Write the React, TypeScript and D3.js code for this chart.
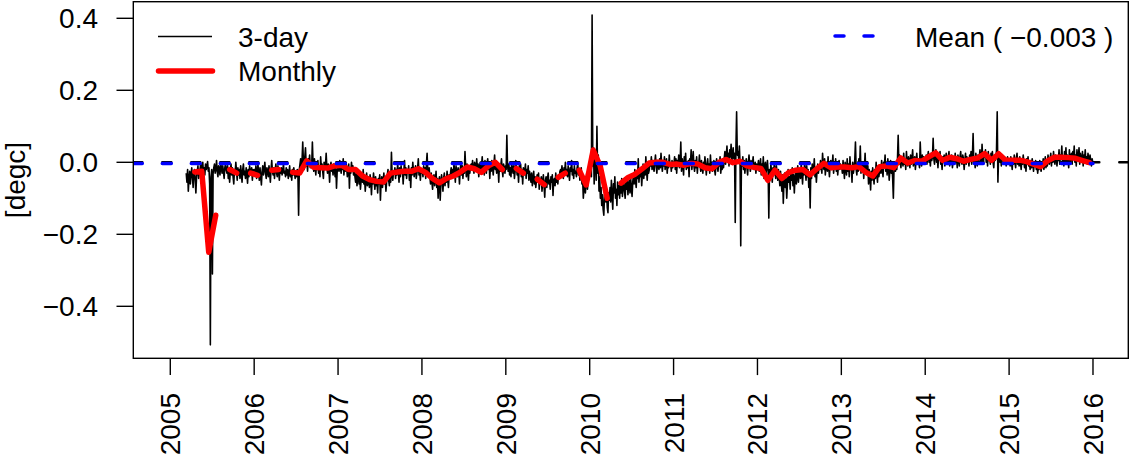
import React from "react";
import * as d3 from "d3";

// 3-day anomalies, in units of 0.001 degC (one array per year)
const threeDay2005 = [
  -30,-55,-20,-80,-45,-25,-60,-35,-15,-40,-70,-30,-20,-50,-85,-40,-25,-10,-45,-30,
  -20,-5,-25,-10,0,-30,-15,-35,-5,-20,-10,2,-25,-15,
  -60,-507,-40,-20,-310,-30,
  -15,-5,-30,-20,5,-25,-40,-10,-20,-35,0,-15,-30,-10,-25,-45,-15,-5,-20,
  -30,-10,-45,-20,-55,-25,-5,-35,-15,-40,-60,-20,-30,0,-25,-50,-15,-35,-20,-45,
  -10,-30,-55,-20,-5,-35,-25,-45,-15,-30,-58,-20,-40,-10,-25,-35,-15,-50,-20,-30,
];
const threeDay2006 = [
  -20,-35,-10,-45,-25,-5,-30,-50,-15,-40,-63,-25,-10,-35,-20,0,-30,-45,-15,-25,
  -40,-10,-30,-55,-20,5,-25,-35,-15,-45,-20,-5,-30,-40,-10,-25,-50,-20,-30,-15,-35,-25,-5,-30,
  -25,-40,-15,-35,-20,-45,-30,-10,-40,-25,-50,-20,-35,-15,-30,-45,-25,-40,-20,-30,-147,
  -20,-5,10,-15,5,56,0,-20,15,40,-10,5,-25,10,-5,20,-15,0,-10,56,
  -5,-25,10,-15,-35,0,-20,5,-30,-10,-40,15,-15,-5,-25,-45,0,-20,-10,25,
  -15,-30,-5,-20,-55,-10,0,-25,-15,-35,-5,-20,-40,-10,-72,-25,-15,
];
const threeDay2007 = [
  -10,-25,5,-15,-30,-5,-20,10,-35,-10,-25,0,-15,-40,-20,-5,-72,-15,-30,0,-20,-10,-35,-25,
  -40,-55,-30,-65,-45,-25,-60,-40,-75,-50,-35,-55,-20,-60,-45,-80,-50,-30,-65,-40,
  -55,-70,-35,-50,-90,-45,-60,-30,-55,-75,-40,-65,-50,-85,-45,-60,-35,-105,-55,-40,
  -70,-50,-30,-60,-45,-80,-55,-35,-20,-50,-65,-40,-55,28,-35,-50,-25,
  -30,-15,-45,-20,-35,-5,-25,-55,-15,-40,-10,-30,-20,-60,-25,5,-35,-15,-45,-20,
  -30,-10,-50,-25,-70,-15,-35,0,-25,-40,-20,-10,-45,-30,-15,10,-35,-25,-50,-20,-30,
];
const threeDay2008 = [
  -20,-40,-10,-30,-15,-45,-5,25,-25,-35,-15,
  -40,-60,-30,-55,-75,-45,-35,-65,-50,-25,-70,-45,-100,-55,-40,-105,-60,-35,-50,-80,
  -45,-30,-65,-40,-55,-25,-50,-70,-35,-45,
  -30,-15,-45,-20,-35,-5,-25,-55,-10,-30,-40,-15,-25,-60,-20,-5,-35,-10,-45,-20,
  -30,30,-15,-40,-5,-25,-50,-15,-30,-10,
  -5,-20,5,-15,-30,0,-10,-25,10,-20,-5,-40,-15,0,-25,-10,15,-20,-5,-35,
  5,-15,-30,-5,10,-20,0,-45,-10,-25,5,-15,-35,-5,20,-20,-10,-30,0,-15,
  -55,-5,-25,-10,10,-20,-40,-5,-15,-30,-10,
];
const threeDay2009 = [
  -20,75,-10,
  -25,-5,-35,-15,-40,0,-20,-30,-10,-45,-25,5,-15,-35,-20,-55,-10,-30,-5,-40,
  -20,-60,-15,-35,-25,-5,-45,-20,-30,-10,-50,-25,
  -40,-55,-30,-65,-45,-25,-60,-40,-70,-50,-35,-55,-30,-75,-45,-60,-40,-80,-55,-35,
  -65,-97,-50,-40,-70,-45,-30,-60,-50,-75,-40,-55,-35,-92,-50,-45,-65,-30,-55,-40,
  -60,-35,-45,-25,
  -20,-35,-10,-30,-45,-15,-25,0,-35,-20,-40,-10,-30,-50,-15,-25,5,-35,-20,-45,
  -10,-30,-25,-40,-15,-5,-35,-20,-50,-30,-15,
  -60,-45,-100,-70,-40,-85,-55,-30,-75,-50,-20,-40,
];
const threeDay2010 = [
  -30,20,-40,409,-10,40,-60,0,30,-50,100,-30,20,-80,-40,-100,
  -70,-120,-90,-130,-147,-95,-60,-110,-80,-125,-140,-85,-105,
  -70,-110,-50,-95,-130,-60,-85,-40,-100,-75,-120,-55,-90,-65,-100,
  -60,-85,-45,-95,-70,-50,-80,-100,-55,-75,-40,-90,-65,-50,-85,-45,-70,-95,-55,
  -35,-60,-20,-50,-70,-30,-45,10,-55,-25,-40,-15,-65,-30,-5,-45,-20,-35,15,-25,
  -50,-10,-30,-20,0,
  -10,15,-20,5,-15,-25,0,20,-10,-30,5,-5,-20,10,-15,25,-5,-25,0,-10,
  15,-20,-5,10,-30,0,-15,20,-10,-5,-25,5,-15,0,
];
const threeDay2011 = [
  -5,15,-20,10,-30,5,-10,20,-15,0,56,-25,10,-5,-35,15,-10,25,-20,0,
  -15,5,-40,10,-5,35,-20,0,30,-10,-25,5,-15,15,-30,0,-10,20,
  -10,-25,5,-15,-30,0,-20,15,-5,-35,-10,10,-20,-5,-30,20,-15,0,-25,-10,
  5,-20,-35,-5,10,-15,-25,0,-10,15,-30,-5,-20,5,-15,
  10,30,-5,20,45,5,25,-10,35,15,50,0,20,40,10,25,
  -167,40,140,20,30,10,45,-5,-232,0,
  -10,15,-20,5,-30,-5,10,-15,-35,0,20,-10,-25,5,-15,-5,15,-20,-10,0,-30,-5,-15,
];
const threeDay2012 = [
  -10,5,-25,-15,10,-35,-5,-20,15,-45,-10,0,-30,-15,5,-25,
  -155,
  -20,-40,-5,-30,-55,-15,-35,0,-25,-45,-10,-30,-50,-20,
  -40,-65,-25,-55,-80,-35,-114,-50,-30,-70,-45,-100,-60,-20,-55,-40,-75,-30,-50,-15,
  -65,-35,-85,-45,-25,-60,-40,-10,-55,-30,
  -20,-45,-5,-30,-60,-15,-35,0,-25,-50,-10,-40,-20,-70,-30,-127,-15,-45,-5,-35,
  -20,10,-40,-15,-55,-25,-5,-30,-10,-20,
  5,-15,-30,25,-5,-20,10,-35,-10,0,-25,15,-15,-40,-5,5,-20,-10,20,-30,
  -5,-15,10,-25,0,-35,-10,5,-20,-5,-15,
];
const threeDay2013 = [
  -10,-30,5,-20,-45,0,-15,-35,10,-25,-5,-40,15,-20,-10,-55,0,-30,-15,5,
  56,-20,-35,-5,-25,10,-15,45,-30,-10,-20,0,-45,-15,25,-25,-5,-35,-10,-60,-20,
  -40,-77,-25,-50,-15,-35,-60,-20,-45,0,-30,-55,-10,-40,-25,
  -15,-30,5,-20,-40,0,-10,20,-25,-5,-35,10,-15,-50,-20,5,-30,-10,-45,-100,
  -15,0,-25,-5,-20,
  10,75,-5,20,0,-15,15,5,-10,25,-5,10,-20,30,0,-10,15,5,-15,20,
  -5,10,35,-10,0,15,-20,5,25,-5,10,0,-15,56,5,-10,20,0,15,-5,10,
];
const threeDay2014 = [
  5,20,-5,15,30,0,10,-10,25,5,15,67,10,-5,25,35,0,15,-15,20,
  10,30,-5,5,-20,15,0,20,-10,10,25,5,-5,15,30,-10,10,0,20,-15,5,
  15,-5,25,0,10,-15,20,5,-10,15,30,0,-5,20,10,-20,5,25,-5,15,
  0,10,-10,20,5,30,-5,15,80,0,10,-15,25,5,-10,20,0,15,35,5,-5,
  50,10,-5,25,15,35,0,20,-10,30,5,15,-5,25,10,30,0,-15,20,5,
  10,35,140,-55,15,25,0,10,-10,20,5,15,-5,0,10,-10,5,15,0,10,
];
const threeDay2015 = [
  5,-10,15,0,-20,10,-5,20,0,-15,10,25,-5,5,-10,15,0,-20,10,-5,
  20,0,-15,5,-25,10,-5,15,-10,0,-20,5,-15,10,-5,-25,0,-10,5,-20,-5,
  -30,-10,-20,5,-15,-25,0,-10,10,-20,-5,15,-15,5,-10,20,0,-5,10,25,
  -10,15,0,30,5,-5,20,10,-10,15,
  5,35,-5,20,10,45,0,15,-10,30,5,40,-5,20,10,-15,35,0,15,25,
  -5,30,10,45,0,20,-10,35,5,15,40,-5,25,10,0,30,-10,20,5,35,
  0,15,-5,25,10,-5,20,5,-10,10,0,
];

// Monthly means, in units of 0.001 degC (NaN = missing month)
const monthly2005 = [NaN, NaN, NaN, -27, -25, -250, -147, NaN, -20, -30, NaN, -30];
const monthly2006 = [-36, NaN, -22, -20, NaN, -28, -30, 4, -14, -15, -16, -10];
const monthly2007 = [-8, -20, -20, -38, -48, -53, -55, -30, -27, -25, -25, -18];
const monthly2008 = [-28, -45, -57, -45, -38, -27, -13, -18, -28, -10, 0, -20];
const monthly2009 = [NaN, -17, -30, NaN, -47, -62, NaN, -42, -30, NaN, -22, -63];
const monthly2010 = [34, -10, -100, NaN, -58, -42, -33, -18, -2, 0, 0, -6];
const monthly2011 = [-5, -8, -3, -5, -15, -18, 0, 8, -1, 3, -10, -14];
const monthly2012 = [-17, -50, -22, -45, -28, -22, -20, -35, -18, -3, -15, -13];
const monthly2013 = [-13, -15, -12, -28, -38, -12, -10, -15, 12, -2, 5, 3];
const monthly2014 = [15, 26, 5, 14, 10, 3, 8, 12, 24, 6, 24, 6];
const monthly2015 = [6, 6, 2, -5, -12, 4, 14, 14, 13, 11, 5, -1];

const years = [2005, 2006, 2007, 2008, 2009, 2010, 2011, 2012, 2013, 2014, 2015];
const threeDayByYear = [threeDay2005, threeDay2006, threeDay2007, threeDay2008, threeDay2009, threeDay2010,
  threeDay2011, threeDay2012, threeDay2013, threeDay2014, threeDay2015];
const threeDayFirstOffset = [0.19, 0.004, 0.004, 0.004, 0.004, 0.004, 0.004, 0.004, 0.004, 0.004, 0.004];
const monthlyByYear = [monthly2005, monthly2006, monthly2007, monthly2008, monthly2009, monthly2010,
  monthly2011, monthly2012, monthly2013, monthly2014, monthly2015];

const meanValue = -0.003;
const meanEnd = 2016.0;
const xTicks = [2005, 2006, 2007, 2008, 2009, 2010, 2011, 2012, 2013, 2014, 2015, 2016];
const yTicks = [-0.4, -0.2, 0.0, 0.2, 0.4];
const yTitle = "[degc]";
const legendLeft = ["3-day", "Monthly"];
const legendRight = "Mean ( \u22120.003 )";

type Pt = { t: number; v: number };

const STEP = 3 / 365.25;
const threeDaySeries: Pt[] = years.flatMap((yr, k) =>
  threeDayByYear[k].map((v, i) => ({ t: yr + threeDayFirstOffset[k] + i * STEP, v: v / 1000 }))
);
const monthlySeries: Pt[] = years.flatMap((yr, k) =>
  monthlyByYear[k].map((v, m) => ({ t: yr + (m + 0.5) / 12, v: v / 1000 }))
);

export default function App() {
  const W = 1130, H = 461;
  const left = 133.3, right = 1128.3, top = 1.7, bottom = 358.3;
  const x = d3.scaleLinear().domain([2004.559, 2016.421]).range([left, right]);
  const y = d3.scaleLinear().domain([-0.5444, 0.4461]).range([bottom, top]);
  const line = d3
    .line<Pt>()
    .defined((d) => Number.isFinite(d.v))
    .x((d) => x(d.t))
    .y((d) => y(d.v));
  const fmt = d3.format(".1f");
  const font = "'Liberation Sans', Arial, Helvetica, sans-serif";
  const fs = 28;
  const tickLen = 16.8;

  return (
    <svg
      width={W}
      height={H}
      viewBox={`0 0 ${W} ${H}`}
      style={{ position: "absolute", left: 0, top: 0, display: "block", background: "#fff" }}
      fontFamily={font}
      fontSize={fs}
    >
      <defs>
        <clipPath id="plotClip">
          <rect x={left} y={top} width={right - left} height={bottom - top} />
        </clipPath>
      </defs>
      <rect x={0} y={0} width={W} height={H} fill="#fff" />
      <g clipPath="url(#plotClip)">
        <line x1={left} x2={right} y1={y(0)} y2={y(0)} stroke="#000" strokeWidth={2.5}
          strokeDasharray="9,20" strokeLinecap="round" />
        <path d={line(threeDaySeries) || ""} fill="none" stroke="#000" strokeWidth={1.6} strokeLinejoin="round" />
        <path d={line(monthlySeries) || ""} fill="none" stroke="#ff0000" strokeWidth={5.5}
          strokeLinejoin="round" strokeLinecap="round" />
        <line x1={left} x2={x(meanEnd)} y1={y(meanValue)} y2={y(meanValue)} stroke="#0000ff" strokeWidth={3.5}
          strokeDasharray="9,20" strokeLinecap="round" />
      </g>
      <rect x={left} y={top} width={right - left} height={bottom - top} fill="none" stroke="#000" strokeWidth={1.4} />
      {yTicks.map((t) => (
        <g key={"y" + t}>
          <line x1={left - tickLen} x2={left} y1={y(t)} y2={y(t)} stroke="#000" strokeWidth={1.4} />
          <text x={98} y={y(t) + 10} textAnchor="end">{fmt(t)}</text>
        </g>
      ))}
      {xTicks.map((t) => (
        <g key={"x" + t}>
          <line x1={x(t)} x2={x(t)} y1={bottom} y2={bottom + tickLen} stroke="#000" strokeWidth={1.4} />
          <text transform={`translate(${x(t) + 10},${393})rotate(-90)`} textAnchor="end">{String(t)}</text>
        </g>
      ))}
      <text transform={`translate(25,${(top + bottom) / 2})rotate(-90)`} textAnchor="middle">{yTitle}</text>
      {/* legend left */}
      <line x1={158} x2={212} y1={36.5} y2={36.5} stroke="#000" strokeWidth={1.4} />
      <text x={238} y={47}>{legendLeft[0]}</text>
      <line x1={158.5} x2={212.5} y1={71} y2={71} stroke="#ff0000" strokeWidth={5.5} strokeLinecap="round" />
      <text x={238} y={81}>{legendLeft[1]}</text>
      {/* legend right */}
      <line x1={835} x2={876} y1={36} y2={36} stroke="#0000ff" strokeWidth={3.5}
        strokeDasharray="9,20" strokeLinecap="round" />
      <text x={915} y={47}>{legendRight}</text>
    </svg>
  );
}
